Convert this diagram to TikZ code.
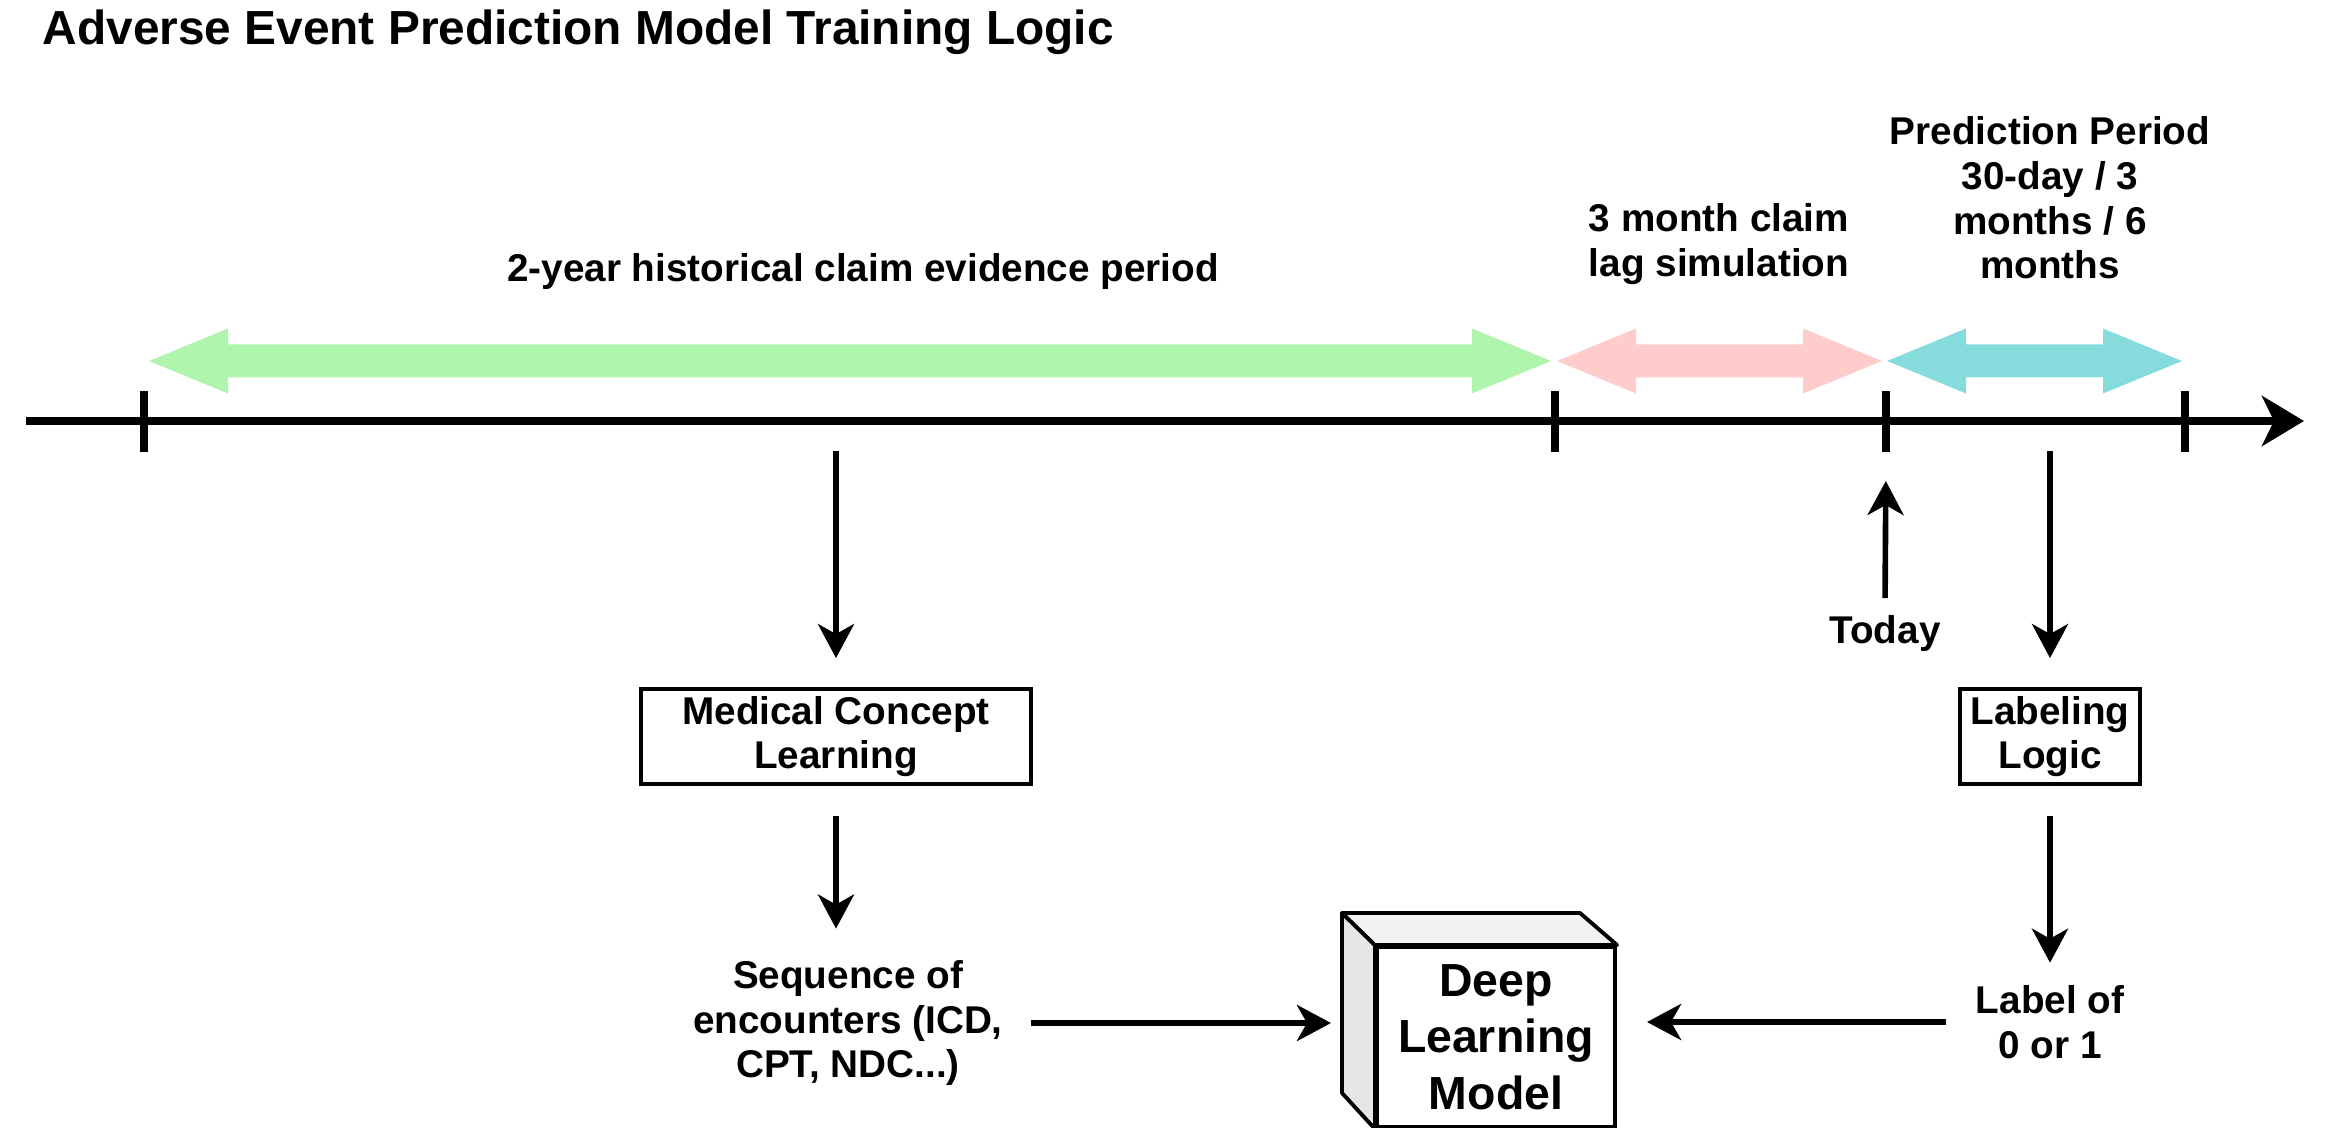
\documentclass[tikz,border=0pt]{standalone}
\usepackage{fontspec}
\setmainfont{Liberation Sans}
\usetikzlibrary{arrows.meta}

\definecolor{histgreen}{RGB}{176,245,174}
\definecolor{lagpink}{RGB}{255,204,204}
\definecolor{predteal}{RGB}{134,220,220}
\definecolor{cubetop}{RGB}{242,242,242}
\definecolor{cubeside}{RGB}{230,230,230}

% block double arrow from x=#1 to x=#2 above the time line
\newcommand{\periodarrow}[3]{%
  \fill[#3] (#1,361) -- ++(79,-32.5) -- ++(0,16) -- ({#2-79},344.5) -- ++(0,-16)
    -- (#2,361) -- ({#2-79},393.5) -- ++(0,-16) -- ({#1+79},377.5) -- ++(0,16) -- cycle;}

\tikzset{
  lbl/.style={font=\bfseries\fontsize{11}{12.7}\selectfont, align=center, inner sep=2pt},
  stagebox/.style={lbl, draw, line width=1.1pt, minimum height=0.89cm},
  flow/.style={line width=1.6pt, -{Stealth[length=0.34cm,width=0.36cm,inset=0.1cm]}},
  timeline/.style={line width=2.5pt, -{Stealth[length=0.42cm,width=0.5cm,inset=0.12cm]}}
}

\begin{document}
\begin{tikzpicture}[x=0.01cm, y=-0.01cm]
\useasboundingbox (0,0) rectangle (2334,1128);

\node[anchor=west, inner sep=0pt, font=\bfseries\fontsize{13.6}{16}\selectfont] (title) at (42,32)
  {Adverse Event Prediction Model Training Logic};

% periods
\periodarrow{149}{1551}{histgreen}
\periodarrow{1557}{1882}{lagpink}
\periodarrow{1887}{2182}{predteal}
\node[lbl] (histlbl) at (863,272) {2-year historical claim evidence period};
\node[lbl] (laglbl) at (1719,244) {3 month claim\\lag simulation};
\node[lbl] (predlbl) at (2050,198) {Prediction Period\\30-day / 3\\months / 6\\months};

% time line
\coordinate (tlstart) at (26,421);
\coordinate (tlend) at (2304,421);
\draw[timeline] (tlstart) -- (tlend);
\foreach \x/\n in {144/start,1555/lag,1886/today,2185/end}
    {\draw[line width=2.5pt] (\x,391) -- (\x,452) coordinate (tick\n);}

% left branch
\coordinate (histsrc) at (836,451);
\node[stagebox, minimum width=3.9cm] (medbox) at (836,736.5) {Medical Concept\\Learning};
\node[lbl] (seq) at (848,1023) {Sequence of\\encounters (ICD,\\CPT, NDC...)};
\draw[flow, shorten >=0.29cm] (histsrc) -- (medbox);
\draw[flow, shorten <=0.3cm, shorten >=0.24cm] (medbox.south) -- (medbox.south |- seq.north);

% model
\node[draw, fill=white, line width=1.1pt, minimum width=2.38cm, minimum height=1.8cm,
  align=center, font=\bfseries\fontsize{13.2}{16.1}\selectfont] (dlm) at (1496,1037)
  {Deep\\Learning\\Model};
\filldraw[fill=cubeside, line width=1.1pt, line join=round] (dlm.north west) -- ++(-33,-32)
  -- ++(0,180) -- (dlm.south west) -- cycle;
\filldraw[fill=cubetop, line width=1.1pt, line join=round] (dlm.north west) -- ++(-33,-32)
  -- ++(238,0) -- (dlm.north east) -- cycle;

% right branch
\coordinate (predsrc) at (2050,451);
\node[stagebox, minimum width=1.8cm] (labbox) at (2050,736.5) {Labeling\\Logic};
\node[lbl] (labelout) at (2050,1022) {Label of\\0 or 1};
\draw[flow, shorten >=0.29cm] (predsrc) -- (labbox);
\draw[flow, shorten <=0.3cm, shorten >=0.15cm] (labbox.south) -- (labbox.south |- labelout.north);

\node[lbl] (today) at (1885,633) {Today};
\draw[flow, shorten <=0.09cm, shorten >=0.29cm] (today.north) -- (ticktoday);

\draw[flow, shorten <=0.2cm, shorten >=0.44cm] (seq.east) -- (seq.east -| dlm.west);
\draw[flow, shorten <=0.22cm, shorten >=0.3cm] (labelout.west) -- (labelout.west -| dlm.east);

\end{tikzpicture}
\end{document}
